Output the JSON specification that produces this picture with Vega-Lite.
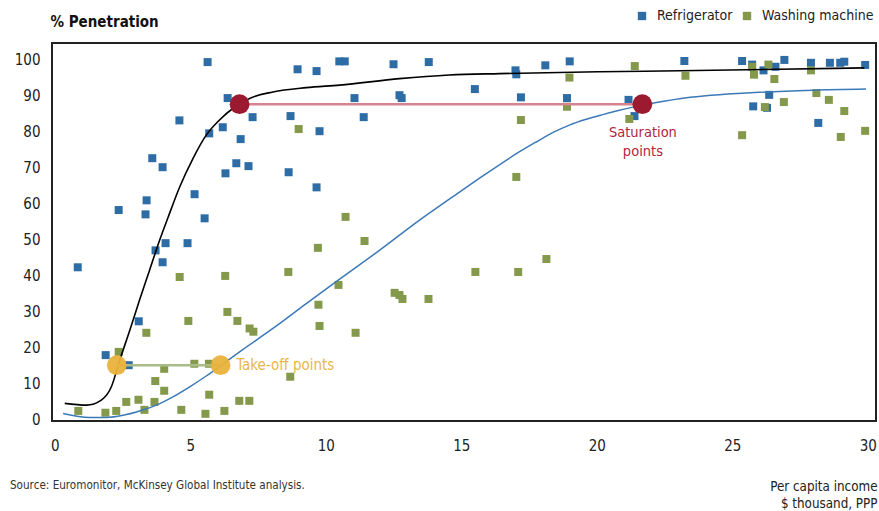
{
  "$schema": "https://vega.github.io/schema/vega-lite/v6.json",
  "width": 824,
  "height": 378,
  "autosize": "none",
  "padding": {"left": 52, "top": 43, "right": 3, "bottom": 90},
  "background": "white",
  "config": {
    "font": "DejaVu Sans Condensed, Liberation Sans Narrow, Roboto, sans-serif",
    "view": {"stroke": "#222", "strokeWidth": 2},
    "axis": {"grid": false, "domain": false, "ticks": false, "labelFontSize": 15, "labelColor": "#222"}
  },
  "title": {
    "text": "Source: Euromonitor, McKinsey Global Institute analysis.",
    "orient": "bottom", "anchor": "start", "frame": "group",
    "dx": -42, "offset": -29, "fontSize": 11.6, "fontWeight": "normal", "color": "#333"
  },
  "datasets": {
    "pts": [
      {"income": 0.85, "pen": 42.2, "product": "Refrigerator"},
      {"income": 1.88, "pen": 17.8, "product": "Refrigerator"},
      {"income": 2.36, "pen": 58.1, "product": "Refrigerator"},
      {"income": 2.73, "pen": 15.0, "product": "Refrigerator"},
      {"income": 3.1, "pen": 27.2, "product": "Refrigerator"},
      {"income": 3.35, "pen": 56.9, "product": "Refrigerator"},
      {"income": 3.39, "pen": 60.8, "product": "Refrigerator"},
      {"income": 3.6, "pen": 72.5, "product": "Refrigerator"},
      {"income": 3.72, "pen": 46.9, "product": "Refrigerator"},
      {"income": 3.98, "pen": 70.0, "product": "Refrigerator"},
      {"income": 3.98, "pen": 43.6, "product": "Refrigerator"},
      {"income": 4.09, "pen": 48.9, "product": "Refrigerator"},
      {"income": 4.6, "pen": 83.0, "product": "Refrigerator"},
      {"income": 4.9, "pen": 48.9, "product": "Refrigerator"},
      {"income": 5.16, "pen": 62.5, "product": "Refrigerator"},
      {"income": 5.53, "pen": 55.8, "product": "Refrigerator"},
      {"income": 5.64, "pen": 99.2, "product": "Refrigerator"},
      {"income": 5.7, "pen": 79.4, "product": "Refrigerator"},
      {"income": 6.2, "pen": 81.1, "product": "Refrigerator"},
      {"income": 6.3, "pen": 68.3, "product": "Refrigerator"},
      {"income": 6.38, "pen": 89.2, "product": "Refrigerator"},
      {"income": 6.7, "pen": 71.1, "product": "Refrigerator"},
      {"income": 6.86, "pen": 77.8, "product": "Refrigerator"},
      {"income": 7.15, "pen": 70.3, "product": "Refrigerator"},
      {"income": 7.3, "pen": 83.9, "product": "Refrigerator"},
      {"income": 8.63, "pen": 68.6, "product": "Refrigerator"},
      {"income": 8.7, "pen": 84.2, "product": "Refrigerator"},
      {"income": 8.96, "pen": 97.2, "product": "Refrigerator"},
      {"income": 9.66, "pen": 96.7, "product": "Refrigerator"},
      {"income": 9.66, "pen": 64.4, "product": "Refrigerator"},
      {"income": 9.77, "pen": 80.0, "product": "Refrigerator"},
      {"income": 10.5, "pen": 99.4, "product": "Refrigerator"},
      {"income": 10.7, "pen": 99.4, "product": "Refrigerator"},
      {"income": 11.06, "pen": 89.2, "product": "Refrigerator"},
      {"income": 11.4, "pen": 83.9, "product": "Refrigerator"},
      {"income": 12.5, "pen": 98.6, "product": "Refrigerator"},
      {"income": 12.72, "pen": 90.0, "product": "Refrigerator"},
      {"income": 12.8, "pen": 89.2, "product": "Refrigerator"},
      {"income": 13.8, "pen": 99.2, "product": "Refrigerator"},
      {"income": 15.5, "pen": 91.7, "product": "Refrigerator"},
      {"income": 17.0, "pen": 96.9, "product": "Refrigerator"},
      {"income": 17.03, "pen": 95.8, "product": "Refrigerator"},
      {"income": 17.2, "pen": 89.4, "product": "Refrigerator"},
      {"income": 18.1, "pen": 98.3, "product": "Refrigerator"},
      {"income": 18.9, "pen": 89.2, "product": "Refrigerator"},
      {"income": 19.0, "pen": 99.4, "product": "Refrigerator"},
      {"income": 21.17, "pen": 88.7, "product": "Refrigerator"},
      {"income": 21.39, "pen": 84.2, "product": "Refrigerator"},
      {"income": 23.23, "pen": 99.5, "product": "Refrigerator"},
      {"income": 25.36, "pen": 99.5, "product": "Refrigerator"},
      {"income": 25.73, "pen": 98.5, "product": "Refrigerator"},
      {"income": 25.77, "pen": 86.9, "product": "Refrigerator"},
      {"income": 26.15, "pen": 96.9, "product": "Refrigerator"},
      {"income": 26.28, "pen": 86.5, "product": "Refrigerator"},
      {"income": 26.36, "pen": 90.1, "product": "Refrigerator"},
      {"income": 26.59, "pen": 97.9, "product": "Refrigerator"},
      {"income": 26.92, "pen": 99.8, "product": "Refrigerator"},
      {"income": 27.9, "pen": 99.0, "product": "Refrigerator"},
      {"income": 28.17, "pen": 82.3, "product": "Refrigerator"},
      {"income": 28.6, "pen": 99.0, "product": "Refrigerator"},
      {"income": 28.98, "pen": 99.0, "product": "Refrigerator"},
      {"income": 29.13, "pen": 99.3, "product": "Refrigerator"},
      {"income": 29.9, "pen": 98.4, "product": "Refrigerator"},
      {"income": 0.87, "pen": 2.3, "product": "Washing machine"},
      {"income": 1.87, "pen": 1.8, "product": "Washing machine"},
      {"income": 2.27, "pen": 2.3, "product": "Washing machine"},
      {"income": 2.36, "pen": 18.7, "product": "Washing machine"},
      {"income": 2.64, "pen": 4.8, "product": "Washing machine"},
      {"income": 3.09, "pen": 5.4, "product": "Washing machine"},
      {"income": 3.31, "pen": 2.6, "product": "Washing machine"},
      {"income": 3.38, "pen": 24.0, "product": "Washing machine"},
      {"income": 3.68, "pen": 4.8, "product": "Washing machine"},
      {"income": 3.71, "pen": 10.6, "product": "Washing machine"},
      {"income": 4.04, "pen": 14.0, "product": "Washing machine"},
      {"income": 4.04, "pen": 7.9, "product": "Washing machine"},
      {"income": 4.61, "pen": 39.5, "product": "Washing machine"},
      {"income": 4.67, "pen": 2.6, "product": "Washing machine"},
      {"income": 4.93, "pen": 27.3, "product": "Washing machine"},
      {"income": 5.15, "pen": 15.4, "product": "Washing machine"},
      {"income": 5.56, "pen": 1.5, "product": "Washing machine"},
      {"income": 5.69, "pen": 15.4, "product": "Washing machine"},
      {"income": 5.7, "pen": 6.8, "product": "Washing machine"},
      {"income": 6.26, "pen": 2.3, "product": "Washing machine"},
      {"income": 6.29, "pen": 39.8, "product": "Washing machine"},
      {"income": 6.37, "pen": 29.8, "product": "Washing machine"},
      {"income": 6.74, "pen": 27.3, "product": "Washing machine"},
      {"income": 6.81, "pen": 5.1, "product": "Washing machine"},
      {"income": 7.18, "pen": 5.1, "product": "Washing machine"},
      {"income": 7.19, "pen": 25.2, "product": "Washing machine"},
      {"income": 7.33, "pen": 24.3, "product": "Washing machine"},
      {"income": 8.62, "pen": 40.9, "product": "Washing machine"},
      {"income": 8.69, "pen": 11.8, "product": "Washing machine"},
      {"income": 9.0, "pen": 80.6, "product": "Washing machine"},
      {"income": 9.71, "pen": 47.6, "product": "Washing machine"},
      {"income": 9.73, "pen": 31.8, "product": "Washing machine"},
      {"income": 9.77, "pen": 25.9, "product": "Washing machine"},
      {"income": 10.47, "pen": 37.3, "product": "Washing machine"},
      {"income": 10.73, "pen": 56.2, "product": "Washing machine"},
      {"income": 11.1, "pen": 24.0, "product": "Washing machine"},
      {"income": 11.43, "pen": 49.5, "product": "Washing machine"},
      {"income": 12.54, "pen": 35.1, "product": "Washing machine"},
      {"income": 12.72, "pen": 34.5, "product": "Washing machine"},
      {"income": 12.83, "pen": 33.4, "product": "Washing machine"},
      {"income": 13.79, "pen": 33.4, "product": "Washing machine"},
      {"income": 15.52, "pen": 40.9, "product": "Washing machine"},
      {"income": 17.03, "pen": 67.3, "product": "Washing machine"},
      {"income": 17.1, "pen": 40.9, "product": "Washing machine"},
      {"income": 17.2, "pen": 83.1, "product": "Washing machine"},
      {"income": 18.14, "pen": 44.5, "product": "Washing machine"},
      {"income": 18.9, "pen": 86.8, "product": "Washing machine"},
      {"income": 18.99, "pen": 94.9, "product": "Washing machine"},
      {"income": 21.2, "pen": 83.4, "product": "Washing machine"},
      {"income": 21.4, "pen": 98.1, "product": "Washing machine"},
      {"income": 23.27, "pen": 95.4, "product": "Washing machine"},
      {"income": 25.36, "pen": 78.9, "product": "Washing machine"},
      {"income": 25.73, "pen": 97.9, "product": "Washing machine"},
      {"income": 25.8, "pen": 95.7, "product": "Washing machine"},
      {"income": 26.2, "pen": 86.7, "product": "Washing machine"},
      {"income": 26.33, "pen": 98.5, "product": "Washing machine"},
      {"income": 26.55, "pen": 94.5, "product": "Washing machine"},
      {"income": 26.9, "pen": 88.1, "product": "Washing machine"},
      {"income": 27.9, "pen": 96.9, "product": "Washing machine"},
      {"income": 28.1, "pen": 90.6, "product": "Washing machine"},
      {"income": 28.56, "pen": 88.7, "product": "Washing machine"},
      {"income": 29.0, "pen": 78.4, "product": "Washing machine"},
      {"income": 29.13, "pen": 85.6, "product": "Washing machine"},
      {"income": 29.9, "pen": 80.1, "product": "Washing machine"}
    ],
    "fridgeCurve": [
      {"income": 0.37, "pen": 4.4}, {"income": 1.17, "pen": 3.9}, {"income": 1.72, "pen": 5.3},
      {"income": 2.09, "pen": 9.0}, {"income": 2.4, "pen": 16.4}, {"income": 2.77, "pen": 24.7},
      {"income": 3.13, "pen": 33.1}, {"income": 3.5, "pen": 41.4}, {"income": 3.87, "pen": 49.7},
      {"income": 4.17, "pen": 55.8}, {"income": 4.61, "pen": 64.5}, {"income": 5.1, "pen": 72.4},
      {"income": 5.59, "pen": 78.9}, {"income": 6.08, "pen": 83.1}, {"income": 6.57, "pen": 86.3},
      {"income": 6.82, "pen": 87.5}, {"income": 7.19, "pen": 89.1}, {"income": 8.05, "pen": 90.9},
      {"income": 9.28, "pen": 92.1}, {"income": 10.51, "pen": 92.8}, {"income": 12.72, "pen": 94.6},
      {"income": 14.56, "pen": 95.6}, {"income": 16.41, "pen": 96.0}, {"income": 20.1, "pen": 96.5},
      {"income": 23.05, "pen": 96.8}, {"income": 26.73, "pen": 97.2}, {"income": 29.87, "pen": 97.6}
    ],
    "washCurve": [
      {"income": 0.31, "pen": 1.6}, {"income": 1.29, "pen": 0.5}, {"income": 1.91, "pen": 0.5},
      {"income": 2.52, "pen": 1.1}, {"income": 3.13, "pen": 2.3}, {"income": 3.75, "pen": 3.9},
      {"income": 4.36, "pen": 6.2}, {"income": 4.98, "pen": 9.0}, {"income": 5.59, "pen": 12.0},
      {"income": 6.15, "pen": 15.0}, {"income": 6.82, "pen": 18.7}, {"income": 8.05, "pen": 25.2},
      {"income": 9.28, "pen": 32.1}, {"income": 10.51, "pen": 38.9}, {"income": 11.98, "pen": 46.9},
      {"income": 13.46, "pen": 55.3}, {"income": 14.69, "pen": 61.8}, {"income": 15.92, "pen": 68.2},
      {"income": 17.15, "pen": 74.3}, {"income": 17.76, "pen": 77.0}, {"income": 18.37, "pen": 79.6},
      {"income": 18.99, "pen": 81.7}, {"income": 19.61, "pen": 83.3}, {"income": 20.22, "pen": 84.6},
      {"income": 20.83, "pen": 85.8}, {"income": 21.45, "pen": 86.9}, {"income": 22.31, "pen": 88.1},
      {"income": 23.05, "pen": 89.0}, {"income": 25.51, "pen": 90.6}, {"income": 27.96, "pen": 91.4},
      {"income": 29.93, "pen": 91.7}
    ],
    "saturation": [{"income": 6.82, "pen": 87.5}, {"income": 21.68, "pen": 87.5}],
    "takeoff": [{"income": 2.29, "pen": 15.0}, {"income": 6.12, "pen": 15.0}],
    "labels": [
      {"income": 6.7, "pen": 15.0, "label": "Take-off points"}
    ],
    "satLabel": [
      {"income": 21.7, "pen": 81.4, "label": "Saturation\npoints"}
    ]
  },
  "encoding": {
    "x": {
      "field": "income", "type": "quantitative",
      "scale": {"domain": [-0.1, 30.3], "nice": false, "zero": false},
      "axis": {
        "values": [0, 5, 10, 15, 20, 25, 30], "labelPadding": 17,
        "title": ["Per capita income", "$ thousand, PPP"],
        "titleAnchor": "end", "titleAlign": "right", "titleBaseline": "top",
        "titleX": 825, "titleY": 58, "titleFontSize": 13.3, "titleFontWeight": "normal",
        "titleColor": "#222", "titleLineHeight": 17
      }
    },
    "y": {
      "field": "pen", "type": "quantitative",
      "scale": {"domain": [-0.5, 104.5], "nice": false, "zero": false},
      "axis": {
        "values": [0, 10, 20, 30, 40, 50, 60, 70, 80, 90, 100], "labelPadding": 12,
        "title": "% Penetration", "titleAngle": 0, "titleAlign": "left",
        "titleBaseline": "alphabetic", "titleX": -2, "titleY": -17,
        "titleFontSize": 15, "titleFontWeight": "bold", "titleColor": "#111"
      }
    }
  },
  "layer": [
    {
      "data": {"name": "pts"},
      "mark": {"type": "square", "size": 64, "opacity": 1},
      "encoding": {
        "color": {
          "field": "product", "type": "nominal",
          "scale": {"domain": ["Refrigerator", "Washing machine"], "range": ["#2e6ca5", "#84994b"]},
          "legend": {
            "title": null, "orient": "none", "direction": "horizontal",
            "legendX": 583, "legendY": -34, "symbolType": "square", "symbolSize": 70,
            "labelFontSize": 14, "labelColor": "#222", "labelOffset": 8, "columnPadding": 7,
            "encode": {"symbols": {"update": {"fill": {"value": "#111"}, "stroke": {"value": "#111"}}}}
          }
        }
      }
    },
    {
      "data": {"name": "fridgeCurve"},
      "mark": {"type": "line", "color": "#000", "strokeWidth": 1.6, "interpolate": "monotone"},
      "encoding": {}
    },
    {
      "data": {"name": "washCurve"},
      "mark": {"type": "line", "color": "#3b79b8", "strokeWidth": 1.5, "interpolate": "monotone"},
      "encoding": {}
    },
    {
      "data": {"name": "saturation"},
      "mark": {"type": "line", "color": "#d4838f", "strokeWidth": 2.5},
      "encoding": {}
    },
    {
      "data": {"name": "takeoff"},
      "mark": {"type": "line", "color": "#a9bb88", "strokeWidth": 2.5},
      "encoding": {}
    },
    {
      "data": {"name": "saturation"},
      "mark": {"type": "circle", "size": 390, "color": "#9c1a30", "opacity": 1},
      "encoding": {}
    },
    {
      "data": {"name": "takeoff"},
      "mark": {"type": "circle", "size": 390, "color": "#e9b23c", "opacity": 0.95},
      "encoding": {}
    },
    {
      "data": {"name": "labels"},
      "mark": {"type": "text", "align": "left", "baseline": "middle", "fontSize": 15, "color": "#e9b64a"},
      "encoding": {"text": {"field": "label"}}
    },
    {
      "data": {"name": "satLabel"},
      "mark": {"type": "text", "align": "center", "baseline": "top", "fontSize": 14.5, "color": "#b0263f", "lineBreak": "\n", "lineHeight": 19},
      "encoding": {"text": {"field": "label"}}
    }
  ]
}
